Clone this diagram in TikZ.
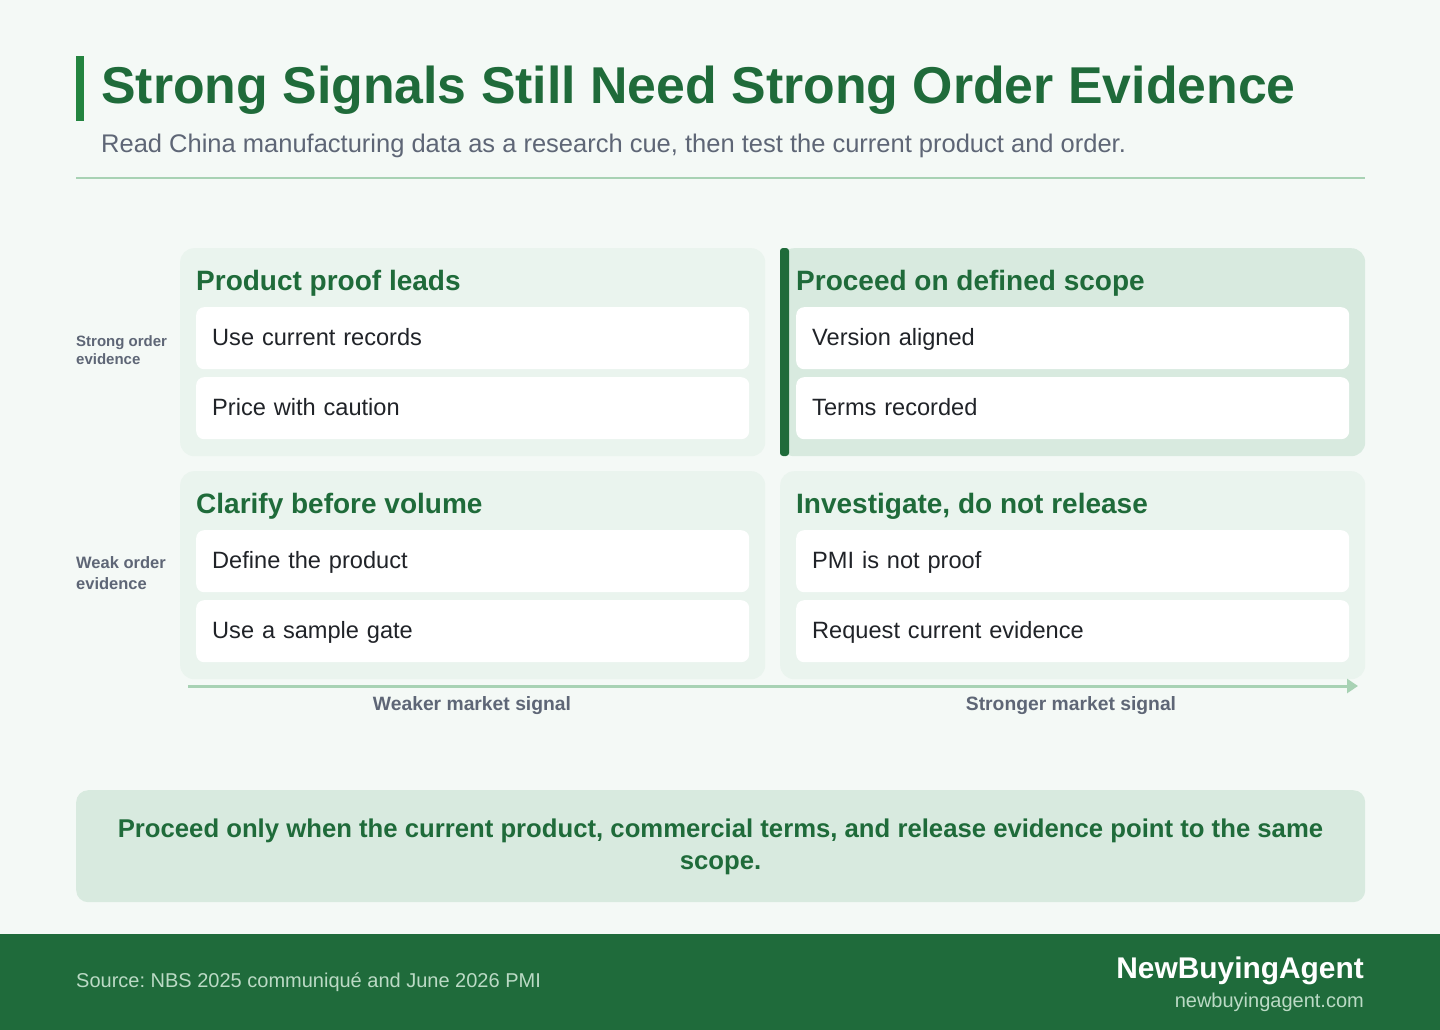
\documentclass[tikz,border=0pt]{standalone}
\usepackage{fontspec}
\setmainfont{Liberation Sans}
\usetikzlibrary{arrows.meta}
\frenchspacing
\definecolor{pagebg}{HTML}{F4F9F6}
\definecolor{deepgreen}{HTML}{1F6B3A}
\definecolor{accentgreen}{HTML}{23843F}
\definecolor{subgrey}{HTML}{5E6676}
\definecolor{paleline}{HTML}{A8D2B4}
\definecolor{cardlight}{HTML}{EAF4EE}
\definecolor{cardstrong}{HTML}{D8EADF}
\definecolor{itemtext}{HTML}{202328}
\definecolor{footgreen}{HTML}{1F6B3B}
\definecolor{foottext}{HTML}{BBDAC5}
\newcommand{\fs}[2]{\fontsize{#1}{#2}\selectfont}
\begin{document}
\begin{tikzpicture}[x=1pt,y=-1pt,
  card/.style={anchor=north west,rounded corners=14pt,minimum width=585pt,minimum height=208pt,inner sep=0pt},
  item/.style={anchor=north west,fill=white,rounded corners=8pt,text width=521pt,inner xsep=16pt,inner ysep=0pt,minimum height=62pt,text height=19pt,text depth=4pt,align=left,text=itemtext,font=\fs{23.6}{28}},
  head/.style={anchor=base west,inner sep=0pt,text=deepgreen,font=\fs{28}{32}\bfseries},
  rowlab/.style={anchor=west,inner sep=0pt,align=left,text=subgrey,font=\bfseries},
  axislab/.style={anchor=center,inner sep=0pt,text=subgrey,font=\fs{19.3}{22}\bfseries}]
\useasboundingbox (0,0) rectangle (1440,1030);
\fill[pagebg] (0,0) rectangle (1440,1030);
% title block
\fill[accentgreen] (76,56) rectangle (84,121);
\node[anchor=base west,inner sep=0pt,text=deepgreen,font=\fs{51.8}{60}\bfseries] (title) at (101,104) {Strong Signals Still Need Strong Order Evidence};
\node[anchor=base west,inner sep=0pt,text=subgrey,font=\fs{25.5}{30}] (subtitle) at (101,153) {Read China manufacturing data as a research cue, then test the current product and order.};
\draw[paleline,line width=2pt] (76,178) -- (1365,178);
% row labels
\node[rowlab,font=\fs{15}{18}\bfseries] (strongrow) at (76,350) {Strong order\\evidence};
\node[rowlab,font=\fs{16.5}{21}\bfseries] (weakrow) at (76,573.5) {Weak order\\evidence};
% cards
\node[card,fill=cardlight] (tl) at (180,248) {};
\node[card,fill=cardstrong] (tr) at (780,248) {};
\fill[deepgreen,rounded corners=3pt] (780,248) rectangle (789,456);
\node[card,fill=cardlight] (bl) at (180,471) {};
\node[card,fill=cardlight] (br) at (780,471) {};
\node[head] (tlhead) at (196,290) {Product proof leads};
\node[item] (tla) at (196,307) {Use current records};
\node[item] (tlb) at (196,377) {Price with caution};
\node[head] (trhead) at (796,290) {Proceed on defined scope};
\node[item] (tra) at (796,307) {Version aligned};
\node[item] (trb) at (796,377) {Terms recorded};
\node[head] (blhead) at (196,513) {Clarify before volume};
\node[item] (bla) at (196,530) {Define the product};
\node[item] (blb) at (196,600) {Use a sample gate};
\node[head] (brhead) at (796,513) {Investigate, do not release};
\node[item] (bra) at (796,530) {PMI is not proof};
\node[item] (brb) at (796,600) {Request current evidence};
% market signal axis
\coordinate (axstart) at (188,686);
\coordinate (axend) at (1358,686);
\draw[paleline,line width=3pt,-{Triangle[length=11pt,width=14pt]}] (axstart) -- (axend);
\node[axislab] (weaker) at (472,705.5) {Weaker market signal};
\node[axislab] (stronger) at (1071,705.5) {Stronger market signal};
% callout
\node[anchor=north west,fill=cardstrong,rounded corners=12pt,minimum width=1289pt,minimum height=112pt,inner sep=0pt] (callout) at (76,790) {};
\node[align=center,inner sep=0pt,text=deepgreen,font=\fs{25.7}{32}\bfseries] (callouttext) at (720.5,846.5) {Proceed only when the current product, commercial terms, and release evidence point to the same\\scope.};
% footer
\fill[footgreen] (0,934) rectangle (1440,1030);
\node[anchor=west,inner sep=0pt,text=foottext,font=\fs{20}{24}] (source) at (76,982) {Source: NBS 2025 communiqué and June 2026 PMI};
\node[anchor=east,inner sep=0pt,text=white,font=\fs{29.9}{34}\bfseries] (brand) at (1364,970.5) {NewBuyingAgent};
\node[anchor=east,inner sep=0pt,text=foottext,font=\fs{20}{24}] (site) at (1364,1002) {newbuyingagent.com};
\end{tikzpicture}
\end{document}
